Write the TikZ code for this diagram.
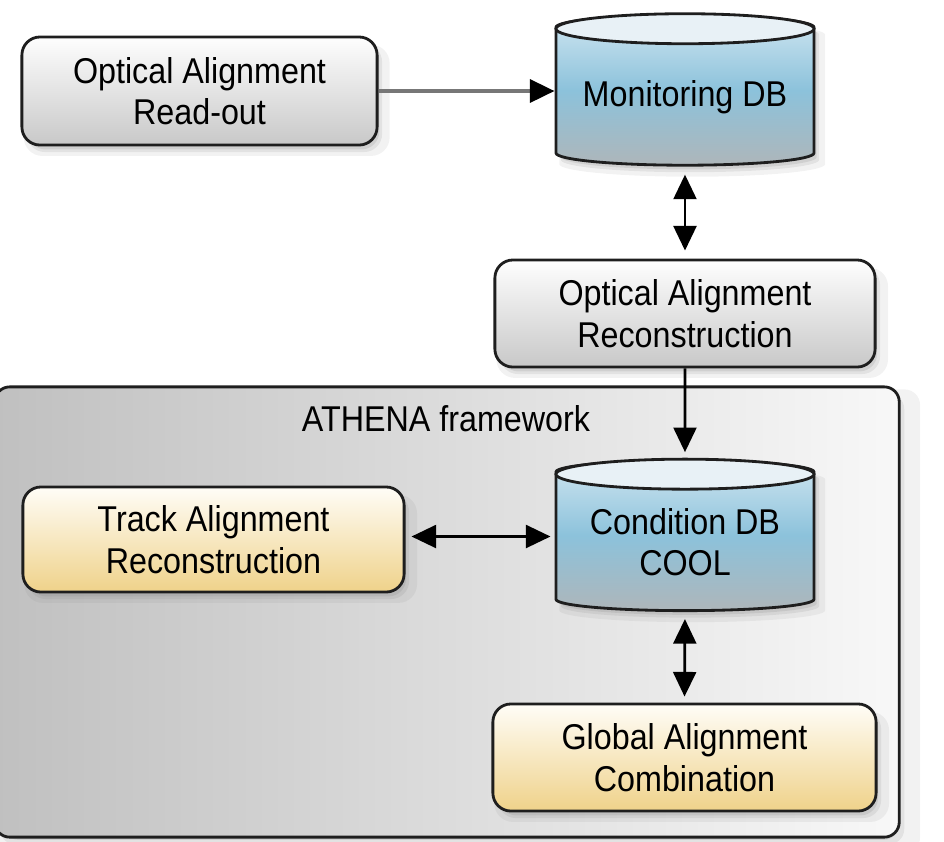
\documentclass[tikz,border=0pt]{standalone}
\usepackage{fontspec}
\setmainfont{Liberation Sans}[FakeStretch=0.9]
\usetikzlibrary{arrows.meta,shapes.geometric,shadows}

\definecolor{boxline}{HTML}{1E1E1E}
\definecolor{graytop}{HTML}{FEFEFE}
\definecolor{graybot}{HTML}{C8C8C8}
\definecolor{yeltop}{HTML}{FFFDF7}
\definecolor{yelbot}{HTML}{EFD28A}
\definecolor{dbtop}{HTML}{D0E6F1}
\definecolor{dbmid}{HTML}{8CC2DB}
\definecolor{dbbot}{HTML}{AEB6BA}
\definecolor{dbcap}{HTML}{E8F1F6}
\definecolor{frameleft}{HTML}{C0C0C0}
\definecolor{frameright}{HTML}{F8F8F8}
\definecolor{greyline}{HTML}{777777}

\begin{document}
\begin{tikzpicture}
[
x=0.01cm, y=-0.01cm,
font=\fontsize{10.2pt}{11.8pt}\selectfont,
every node/.style={align=center, inner sep=0pt},
softshadow/.style={
  drop shadow={shadow xshift=0.07cm, shadow yshift=-0.09cm, opacity=0.1, shadow scale=1.03},
  drop shadow={shadow xshift=0.05cm, shadow yshift=-0.07cm, opacity=0.14},
  drop shadow={shadow xshift=0.04cm, shadow yshift=-0.05cm, opacity=0.18, shadow scale=0.99}},
procbox/.style={rectangle, rounded corners=0.18cm, draw=boxline, line width=0.8pt, softshadow},
graybox/.style={procbox, top color=graytop, bottom color=graybot},
yellowbox/.style={procbox, top color=yeltop, bottom color=yelbot},
dbase/.style={cylinder, shape border rotate=90, aspect=0.12, draw=boxline, line width=0.8pt,
  minimum width=2.58cm, minimum height=1.5cm, top color=dbtop, bottom color=dbbot, middle color=dbmid, softshadow},
dbend/.style={fill=dbcap, draw=boxline, line width=0.8pt},
frame/.style={rectangle, rounded corners=0.15cm, draw=boxline, line width=0.8pt,
  left color=frameleft, right color=frameright, softshadow},
link/.style={line width=0.8pt, -{Triangle[length=7pt,width=6.5pt,color=black]}},
twoway/.style={line width=0.8pt, {Triangle[length=7pt,width=6.5pt]}-{Triangle[length=7pt,width=6.5pt]}}
]
\useasboundingbox (0,0) rectangle (944,841);

\node[frame, minimum width=9.04cm, minimum height=4.5cm] (athena) at (447,612) {};
\node (athlabel) at (446,419) {ATHENA framework};

\node[graybox, minimum width=3.55cm, minimum height=1.08cm] (readout) at (199.5,91) {Optical Alignment\\Read-out};
\node[dbase] (mondb) at (685,97) {Monitoring DB};
\draw[dbend] ([yshift=-0.15cm]mondb.top) ellipse [x radius=1.29cm, y radius=0.15cm];
\node[graybox, minimum width=3.8cm, minimum height=1.07cm] (oarec) at (685,313.5) {Optical Alignment\\Reconstruction};

\node[dbase] (conddb) at (685,542) {Condition DB\\COOL};
\draw[dbend] ([yshift=-0.15cm]conddb.top) ellipse [x radius=1.29cm, y radius=0.15cm];
\node[yellowbox, minimum width=3.81cm, minimum height=1.05cm] (trackrec) at (213.5,539.5) {Track Alignment\\Reconstruction};
\node[yellowbox, minimum width=3.83cm, minimum height=1.07cm] (globcomb) at (684.5,757.5) {Global Alignment\\Combination};

\draw[link, draw=greyline, line width=1.1pt] (readout.east) -- (readout.east -| mondb.west);
\draw[twoway, shorten <=0.08cm, shorten >=0.08cm] (mondb.south) -- (oarec.north);
\draw[link, shorten >=0.07cm] (oarec.south) -- (conddb.north);
\draw[twoway, shorten <=0.06cm, shorten >=0.04cm] ([yshift=0.03cm]trackrec.east) -- ([yshift=0.03cm]trackrec.east -| conddb.west);
\draw[twoway, shorten <=0.07cm, shorten >=0.06cm] (conddb.south) -- (globcomb.north);
\end{tikzpicture}
\end{document}
